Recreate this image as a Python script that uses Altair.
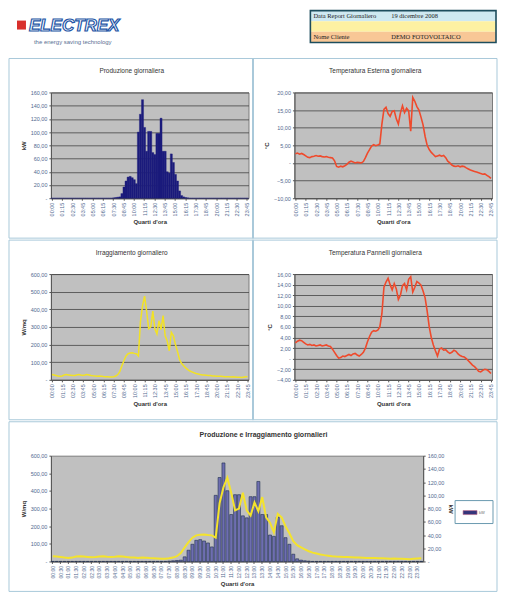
import altair as alt
import pandas as pd

# ---------------- data ----------------
times = [f"{h:02d}:{m:02d}" for h in range(24) for m in (0, 15, 30, 45)]

produzione_kw = [
    0, 0, 0, 0, 0, 0, 0, 0, 0, 0,
    0, 0, 0, 0, 0, 0, 0, 0, 0, 0,
    0, 0, 0, 0, 0, 0, 0, 0, 0, 0,
    0.5, 1, 1.5, 2, 7, 17, 26, 32, 33, 31,
    28, 22, 100, 127, 149, 107, 71, 101, 101, 69,
    66, 98, 98, 121, 71, 71, 40, 38, 67, 54,
    36, 26, 11, 4, 2, 1, 0.5, 0, 0, 0,
    0, 0, 0, 0, 0, 0, 0, 0, 0, 0,
    0, 0, 0, 0, 0, 0, 0, 0, 0, 0,
    0, 0, 0, 0, 0, 0,
]

irraggiamento = [
    30, 28, 25, 22, 20, 22, 28, 30, 28, 26,
    24, 25, 28, 30, 27, 25, 27, 30, 28, 25,
    23, 22, 20, 22, 21, 19, 18, 17, 16, 16,
    18, 22, 30, 48, 80, 110, 135, 148, 152, 153,
    150, 148, 135, 330, 420, 475, 390, 290, 300, 390,
    290, 260, 335, 285, 365, 250, 220, 165, 270, 250,
    200, 160, 115, 92, 80, 68, 58, 50, 45, 40,
    36, 33, 30, 28, 27, 26, 25, 24, 22, 22,
    21, 20, 20, 19, 18, 18, 17, 16, 17, 16,
    15, 14, 13, 15, 17, 18,
]

temp_esterna = [
    2.6, 2.8, 2.5, 2.7, 2.4, 2.0, 1.6, 1.5, 1.8, 1.9,
    2.1, 1.9, 2.0, 1.8, 1.7, 1.8, 1.6, 1.5, 1.4, 0.6,
    -1.0, -1.2, -0.9, -1.1, -0.8, -0.4, 0.2, 0.5, 0.3, 0.0,
    0.2, 0.1, 0.0, 0.4, 1.5, 2.8, 3.8, 4.8, 5.2, 4.9,
    5.1, 5.4, 11.0, 15.2, 15.8, 14.0, 13.2, 14.6, 14.8, 12.5,
    11.0, 14.2, 16.2, 14.3, 15.5, 14.8, 9.0, 18.6, 17.5, 16.0,
    15.0, 13.0, 10.8, 7.5, 5.0, 3.8, 3.0, 2.4, 1.8, 2.0,
    2.2, 1.9, 2.1, 1.5, 0.5, 0.0, -0.6, -0.9, -1.0, -0.8,
    -1.1, -0.9, -1.0, -1.4, -1.7, -2.0, -2.2, -2.4, -2.6, -2.8,
    -3.0, -3.2, -3.1, -3.5, -3.9, -4.4,
]

temp_pannelli = [
    3.0, 3.3, 3.5, 3.4, 3.1, 2.8, 2.6, 2.7, 2.5, 2.6,
    2.4, 2.5, 2.6, 2.4, 2.5, 2.6, 2.4, 2.3, 1.8, 1.2,
    0.6, 0.1, 0.2, 0.5, 0.4, 0.6, 0.8, 0.6, 0.9, 1.0,
    0.7, 0.5, 0.8, 1.2, 2.0, 3.2, 4.2, 5.0, 5.3, 5.2,
    5.4, 6.0, 8.5, 13.5, 14.5, 15.2, 14.0, 13.0, 14.2, 13.2,
    11.2, 12.0, 13.8, 14.2, 13.0, 15.0, 15.5, 12.6, 13.5, 14.6,
    14.3, 13.9, 12.8, 11.5, 9.0, 6.0, 4.0, 2.6, 1.5, 0.5,
    1.8, 2.0, 1.6, 1.7, 1.3, 1.0, 1.2, 1.6, 1.4, 0.9,
    0.6, 0.4, 0.3, 0.0, -0.4, -0.8, -1.2, -1.5, -1.9, -2.4,
    -2.5, -2.2, -2.0, -2.1, -2.4, -2.8,
]

titles = [
    "Produzione giornaliera",
    "Temperatura Esterna giornaliera",
    "Irraggiamento giornaliero",
    "Temperatura Pannelli giornaliera",
    "Produzione e Irraggiamento giornalieri",
]
x_title = "Quarti d'ora"
header_labels = ["Data Report Giornaliero", "Nome Cliente"]
header_values = ["19 dicembre 2008", "DEMO FOTOVOLTAICO"]
logo_text = "ELECTREX"
logo_sub = "the energy saving technology"

df = pd.DataFrame({"t": times, "prod": produzione_kw, "irr": irraggiamento,
                   "text": temp_esterna, "tpan": temp_pannelli})
one = pd.DataFrame({"k": [0]})

# ---------------- style / layout ----------------
FONT = "Liberation Sans"
LBL = "#51698f"
GRID = "#444444"
BORDER = "#a9c9da"
PLOT_BG = "#c0c0c0"
LEXPR = "datum.value == 0 ? '-' : replace(format(datum.value, '.2f'), '.', ',')"

PW, PH, PLEFT, PTOP, PANW, PANH = 198, 106, 42, 34, 245, 180
BW, BH, BPANW, BPANH = 373, 106, 489, 170
HSPACE = 46   # gap between left and right plot areas
HEAD_H = 46
CLEAR = alt.ViewBackground(fill="transparent", stroke="transparent")


def x_axis(values, size=5.5):
    return alt.Axis(values=values, labelAngle=-90, labelFont=FONT, labelFontSize=size,
                    labelColor=LBL, labelOverlap=False, labelPadding=2, title=x_title,
                    titleFont=FONT, titleFontSize=6, titleColor="#333", titleFontWeight="bold",
                    titlePadding=3, tickSize=2, tickColor="#555", domainColor="#555", grid=False)


def y_axis(title, values, grid=True, orient="left"):
    return alt.Axis(values=values, labelExpr=LEXPR, title=title, orient=orient,
                    labelFont=FONT, labelFontSize=5.5, labelColor=LBL,
                    titleFont=FONT, titleFontSize=6, titleColor="#333", titleFontWeight="bold",
                    grid=grid, gridColor=GRID, gridWidth=0.8, domainColor="#555",
                    tickSize=2, tickColor="#555", labelPadding=2, titlePadding=4)


def deco(panw, panh, title, tx, bold=False, tsize=6.5):
    border = alt.Chart(one).mark_rect(fillOpacity=0, stroke=BORDER, strokeWidth=1).encode(
        x=alt.value(-PLEFT), x2=alt.value(panw - PLEFT),
        y=alt.value(-PTOP), y2=alt.value(panh - PTOP))
    ttl = alt.Chart(one).mark_text(font=FONT, fontSize=tsize,
                                   fontWeight="bold" if bold else "normal",
                                   color="#333", align="center", baseline="middle").encode(
        x=alt.value(tx), y=alt.value(-21), text=alt.value(title))
    return [ttl, border]


VIEW = alt.ViewBackground(fill=PLOT_BG, stroke="#7a7a7a", strokeWidth=1)
xband0 = alt.Scale(paddingInner=0, paddingOuter=0)

# top-left: production bars
tl_main = alt.Chart(df).mark_bar(color="#1b1b7c", stroke="#1b1b7c", strokeWidth=0.4).encode(
    x=alt.X("t:O", sort=times, scale=xband0, axis=x_axis(times[::5])),
    y=alt.Y("prod:Q", scale=alt.Scale(domain=[0, 160], nice=False),
            axis=y_axis("kW", list(range(0, 161, 20)))),
)
tl = alt.layer(tl_main, *deco(PANW, PANH, titles[0], 81)).properties(
    width=PW, height=PH, view=VIEW)

# top-right: external temperature
tr_main = alt.Chart(df).mark_line(color="#ef4a2c", strokeWidth=1.6).encode(
    x=alt.X("t:O", sort=times, axis=x_axis(times[::5])),
    y=alt.Y("text:Q", scale=alt.Scale(domain=[-10, 20], nice=False),
            axis=y_axis("°C", list(range(-10, 21, 5)))),
)
tr = alt.layer(tr_main, *deco(PANW, PANH, titles[1], 81)).properties(
    width=PW, height=PH, view=VIEW)

# mid-left: irradiance
ml_main = alt.Chart(df).mark_line(color="#f2e224", strokeWidth=1.5).encode(
    x=alt.X("t:O", sort=times, axis=x_axis(times[::5])),
    y=alt.Y("irr:Q", scale=alt.Scale(domain=[0, 600], nice=False),
            axis=y_axis("W/mq", list(range(0, 601, 100)))),
)
ml = alt.layer(ml_main, *deco(PANW, PANH, titles[2], 81)).properties(
    width=PW, height=PH, view=VIEW)

# mid-right: panel temperature
mr_main = alt.Chart(df).mark_line(color="#ef4a2c", strokeWidth=1.6).encode(
    x=alt.X("t:O", sort=times, axis=x_axis(times[::5])),
    y=alt.Y("tpan:Q", scale=alt.Scale(domain=[-4, 16], nice=False),
            axis=y_axis("°C", list(range(-4, 17, 2)))),
)
mr = alt.layer(mr_main, *deco(PANW, PANH, titles[3], 81)).properties(
    width=PW, height=PH, view=VIEW)

# bottom: production bars + irradiance line
bx = alt.X("t:O", sort=times, scale=alt.Scale(paddingInner=0.22, paddingOuter=0.1),
           axis=x_axis(times[::2], size=5))
b_bars = alt.Chart(df).mark_bar(fill="#6e6eb0", stroke="#1f2f4f", strokeWidth=0.6).encode(
    x=bx,
    y=alt.Y("prod:Q", scale=alt.Scale(domain=[0, 160], nice=False),
            axis=y_axis("kW", list(range(0, 161, 20)), grid=False, orient="right")),
)
b_line = alt.Chart(df).mark_line(color="#f4e32c", strokeWidth=2).encode(
    x=bx,
    y=alt.Y("irr:Q", scale=alt.Scale(domain=[0, 600], nice=False),
            axis=y_axis("W/mq", list(range(0, 601, 100)), grid=False, orient="left")),
)
leg_box = alt.Chart(one).mark_rect(fill="white", stroke="#6a9ab0", strokeWidth=1).encode(
    x=alt.value(405), x2=alt.value(443), y=alt.value(45), y2=alt.value(68))
leg_sw = alt.Chart(one).mark_rect(fill="#34347a", stroke="#c06a8a", strokeWidth=0.6).encode(
    x=alt.value(413), x2=alt.value(427), y=alt.value(55), y2=alt.value(59))
leg_tx = alt.Chart(one).mark_text(font=FONT, fontSize=4, color="#666", align="left",
                                  baseline="middle").encode(
    x=alt.value(429), y=alt.value(57), text=alt.value("kW"))
bottom = alt.layer(b_bars, b_line, leg_box, leg_sw, leg_tx,
                   *deco(BPANW, BPANH, titles[4], 213, bold=True, tsize=7)
                   ).resolve_scale(y="independent").properties(width=BW, height=BH, view=VIEW)


# header (coordinates relative to the plot-area column start, which sits 42px in)
def hrect(x1, x2, y1, y2, **kw):
    return alt.Chart(one).mark_rect(**kw).encode(
        x=alt.value(x1 - PLEFT), x2=alt.value(x2 - PLEFT), y=alt.value(y1), y2=alt.value(y2))


def htext(x, y, txt, **kw):
    return alt.Chart(one).mark_text(align="left", baseline="middle", **kw).encode(
        x=alt.value(x - PLEFT), y=alt.value(y), text=alt.value(txt))


TX1, TX2 = 302, 488
header = alt.layer(
    hrect(TX1, TX2, 0, 10.7, fill="#cfe9f1"),
    hrect(TX1, TX2, 10.7, 21.3, fill="#fdf1a2"),
    hrect(TX1, TX2, 21.3, 32, fill="#f8c796"),
    hrect(TX1, TX2, 0, 32, fillOpacity=0, stroke="#1d4d5d", strokeWidth=1.6),
    htext(305, 5.5, header_labels[0], font="Liberation Serif", fontSize=6.5, color="#222"),
    htext(383, 5.5, header_values[0], font="Liberation Serif", fontSize=6.5, color="#222"),
    htext(305, 26.8, header_labels[1], font="Liberation Serif", fontSize=6.5, color="#222"),
    htext(383, 26.8, header_values[1], font="Liberation Serif", fontSize=6.5, color="#222"),
    hrect(8, 17, 10, 19, fill="#d9302c"),
    htext(20, 15, logo_text, font=FONT, fontSize=17, fontStyle="italic", fontWeight="bold",
          fill="#ffffff", stroke="#2456a6", strokeWidth=1.2),
    htext(25, 31, logo_sub, font=FONT, fontSize=6, color="#5a6f93"),
).properties(width=PW, height=HEAD_H, view=CLEAR)

row1 = alt.hconcat(tl, tr, spacing=HSPACE, bounds="flush")
row2 = alt.hconcat(ml, mr, spacing=HSPACE, bounds="flush")

chart = alt.vconcat(header, row1, row2, bottom, spacing=0).properties(
    padding=0, background="white"
).configure_view(stroke="transparent")

chart.save("out.html", embed_options={"renderer": "svg", "actions": False})
